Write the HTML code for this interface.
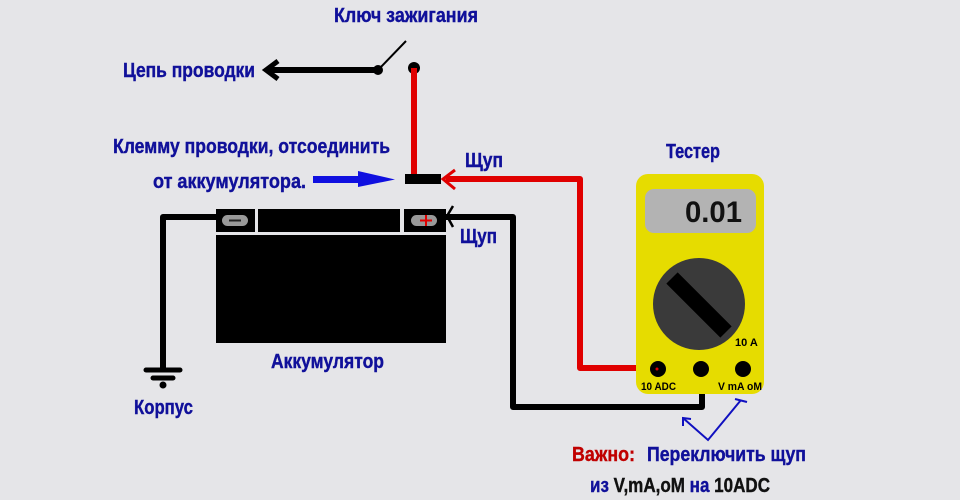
<!DOCTYPE html>
<html><head><meta charset="utf-8"><style>
html,body{margin:0;padding:0;background:#e5e5e8;}
svg{display:block}
text{font-family:"Liberation Sans Narrow","Liberation Sans",sans-serif;font-weight:bold;}
</style></head><body>
<svg width="960" height="500" viewBox="0 0 960 500" xmlns="http://www.w3.org/2000/svg">
<rect width="960" height="500" fill="#e5e5e8"/>
<g fill="#10109a" font-size="20" stroke="#10109a" stroke-width="0.4">
<text x="334" y="22" textLength="144" lengthAdjust="spacingAndGlyphs">Ключ зажигания</text>
<text x="123" y="77" textLength="132" lengthAdjust="spacingAndGlyphs">Цепь проводки</text>
<text x="113" y="153" textLength="277" lengthAdjust="spacingAndGlyphs">Клемму проводки, отсоединить</text>
<text x="153" y="188" textLength="153" lengthAdjust="spacingAndGlyphs">от аккумулятора.</text>
<text x="465" y="167" textLength="38" lengthAdjust="spacingAndGlyphs">Щуп</text>
<text x="460" y="243" textLength="37" lengthAdjust="spacingAndGlyphs">Щуп</text>
<text x="666" y="158" textLength="54" lengthAdjust="spacingAndGlyphs">Тестер</text>
<text x="271" y="368" textLength="113" lengthAdjust="spacingAndGlyphs">Аккумулятор</text>
<text x="134" y="414" textLength="59" lengthAdjust="spacingAndGlyphs">Корпус</text>
<text x="647" y="461" textLength="159" lengthAdjust="spacingAndGlyphs">Переключить щуп</text>
</g>
<text x="572" y="461" fill="#c00000" stroke="#c00000" stroke-width="0.4" font-size="20" textLength="63" lengthAdjust="spacingAndGlyphs">Важно:</text>
<text x="590" y="492" font-size="20" stroke-width="0.4" textLength="180" lengthAdjust="spacingAndGlyphs"><tspan fill="#10109a" stroke="#10109a">из </tspan><tspan fill="#111" stroke="#111">V,mA,oM </tspan><tspan fill="#10109a" stroke="#10109a">на </tspan><tspan fill="#111" stroke="#111">10ADC</tspan></text>

<!-- switch -->
<line x1="270" y1="70" x2="378" y2="70" stroke="#000" stroke-width="6"/>
<polyline points="278,61 266,70 278,79" fill="none" stroke="#000" stroke-width="5"/>
<circle cx="378" cy="70" r="5" fill="#000"/>
<line x1="378" y1="70" x2="406" y2="41" stroke="#000" stroke-width="2"/>
<circle cx="414" cy="68" r="6" fill="#000"/>
<line x1="414" y1="68" x2="414" y2="178" stroke="#e00000" stroke-width="6"/>
<rect x="405" y="174" width="36" height="10" fill="#000"/>
<!-- blue arrow -->
<rect x="313" y="176" width="48" height="7" fill="#1010e0"/>
<polygon points="358,171 395,179.5 358,187" fill="#1010e0"/>
<!-- red probe -->
<polyline points="446,179 580,179 580,368 658,368" fill="none" stroke="#e00000" stroke-width="6" stroke-linejoin="round"/>
<polyline points="455,170 443,179 455,189" fill="none" stroke="#e00000" stroke-width="3"/>
<!-- battery -->
<rect x="216" y="209" width="39" height="23" fill="#000"/>
<rect x="258" y="209" width="142" height="23" fill="#000"/>
<rect x="404" y="209" width="42" height="23" fill="#000"/>
<rect x="216" y="235" width="230" height="108" fill="#000"/>
<rect x="222" y="215" width="26" height="11" rx="5.5" fill="#999"/>
<line x1="229" y1="220.5" x2="241" y2="220.5" stroke="#222" stroke-width="2"/>
<rect x="411" y="215" width="26" height="11" rx="5.5" fill="#999"/>
<line x1="420" y1="220.5" x2="432" y2="220.5" stroke="#e00000" stroke-width="2"/>
<line x1="426" y1="215" x2="426" y2="226" stroke="#e00000" stroke-width="2"/>
<!-- ground wire -->
<polyline points="218,217 163,217 163,370" fill="none" stroke="#000" stroke-width="6" stroke-linejoin="round"/>
<line x1="146" y1="370" x2="180" y2="370" stroke="#000" stroke-width="5" stroke-linecap="round"/>
<line x1="153" y1="378" x2="173" y2="378" stroke="#000" stroke-width="5" stroke-linecap="round"/>
<circle cx="163" cy="385" r="3.5" fill="#000"/>
<!-- black probe -->
<polyline points="446,217 513,217 513,407 702,407 702,370" fill="none" stroke="#000" stroke-width="6" stroke-linejoin="round"/>
<polyline points="453,206 447,216 453,227" fill="none" stroke="#000" stroke-width="2.5"/>
<!-- tester -->
<rect x="636" y="174" width="128" height="220" rx="12" fill="#e6dc00"/>
<rect x="645" y="189" width="111" height="44" rx="9" fill="#b3b3b3"/>
<text x="685" y="222" font-family="Liberation Mono,monospace" font-size="30" fill="#111" textLength="57" lengthAdjust="spacingAndGlyphs">0.01</text>
<circle cx="699" cy="304" r="46" fill="#3a3a3a"/>
<line x1="672" y1="278" x2="726" y2="332" stroke="#000" stroke-width="16"/>
<text x="735" y="346" font-size="11" fill="#000">10 A</text>
<circle cx="658" cy="369" r="8" fill="#000"/>
<circle cx="657" cy="369" r="1.5" fill="#e00000"/>
<circle cx="701" cy="369" r="8" fill="#000"/>
<circle cx="743" cy="369" r="8" fill="#000"/>
<text x="641" y="390" font-size="11" fill="#000" textLength="35" lengthAdjust="spacingAndGlyphs">10 ADC</text>
<text x="718" y="390" font-size="11" fill="#000" textLength="44" lengthAdjust="spacingAndGlyphs">V mA oM</text>
<!-- blue pointer -->
<polyline points="683,418 708,440 741,400" fill="none" stroke="#1010c0" stroke-width="2"/>
<polyline points="683,426 683,418 691,419" fill="none" stroke="#1010c0" stroke-width="2"/>
<line x1="735" y1="399" x2="747" y2="402" stroke="#1010c0" stroke-width="2"/>
</svg>
</body></html>
